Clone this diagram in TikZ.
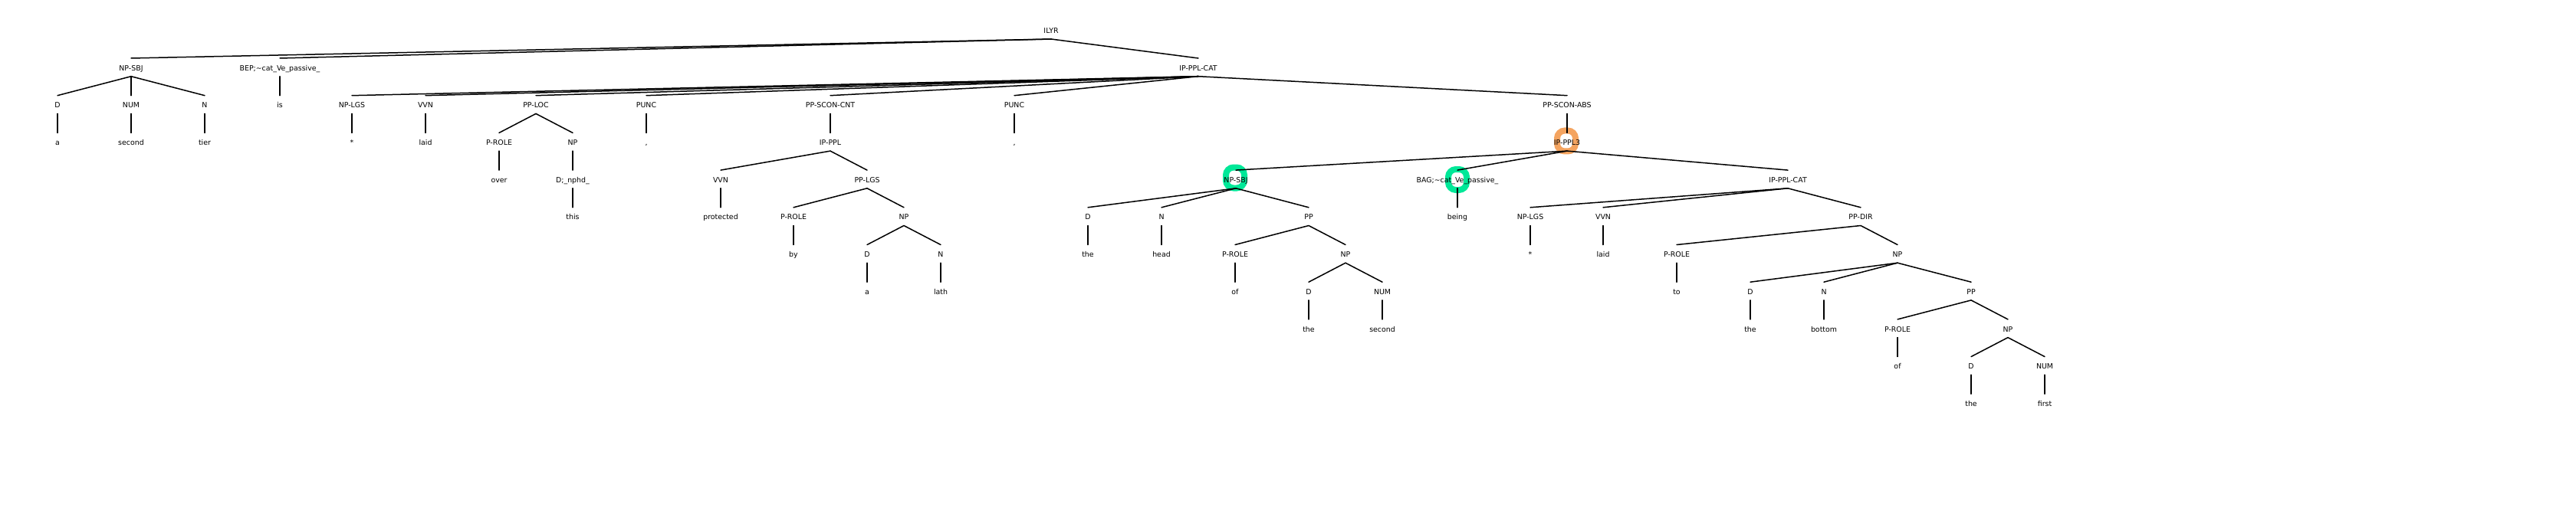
\documentclass[tikz,border=0pt]{standalone}
\usepackage{fontspec}
\setmainfont{DejaVu Sans}
\definecolor{hlorange}{RGB}{244,164,96}
\definecolor{hlgreen}{RGB}{0,232,152}
\tikzset{
  every picture/.style={line width=1.5pt},
  lbl/.style={anchor=base, inner sep=0pt, text height=10.4pt, text depth=1.7pt,
    outer ysep=5.8pt, font=\fontsize{9.4}{11}\selectfont},
  ring/.style={draw, line width=8pt, minimum width=24pt, minimum height=27pt,
    rounded corners=10pt, inner sep=0pt},
  edge/.style={line width=1.5pt, line cap=round}
}

\begin{document}
\begin{tikzpicture}[x=1pt,y=48.7pt,yscale=-1]
\useasboundingbox (0,-0.8932) rectangle (3360,12.885);

%Shape: highlight rings
\node[ring, draw=hlorange] (ringppl) at (2043,2.885) {};
\node[ring, draw=hlgreen] (ringsbj) at (1611,3.871) {};
\node[ring, draw=hlgreen] (ringbag) at (1901,3.922) {};

% level 0
\node[lbl] (ilyr) at (1371,0) {ILYR};
% level 1
\node[lbl] (sbj) at (171,1) {NP-SBJ};
\node[lbl] (bep) at (365,1) {BEP;\textasciitilde cat\_Ve\_passive\_};
\node[lbl] (cat) at (1563,1) {IP-PPL-CAT};
% level 2
\node[lbl] (d1) at (75,2) {D};
\node[lbl] (num1) at (171,2) {NUM};
\node[lbl] (n1) at (267,2) {N};
\node[lbl] (is) at (365,2) {is};
\node[lbl] (lgs1) at (459,2) {NP-LGS};
\node[lbl] (vvn1) at (555,2) {VVN};
\node[lbl] (loc) at (699,2) {PP-LOC};
\node[lbl] (punc1) at (843,2) {PUNC};
\node[lbl] (cnt) at (1083,2) {PP-SCON-CNT};
\node[lbl] (punc2) at (1323,2) {PUNC};
\node[lbl] (abs) at (2044,2) {PP-SCON-ABS};
% level 3
\node[lbl] (wa1) at (75,3) {a};
\node[lbl] (wsecond1) at (171,3) {second};
\node[lbl] (wtier) at (267,3) {tier};
\node[lbl] (wstar1) at (459,3) {*};
\node[lbl] (wlaid1) at (555,3) {laid};
\node[lbl] (prole1) at (651,3) {P-ROLE};
\node[lbl] (np1) at (747,3) {NP};
\node[lbl] (wcomma1) at (843,3) {,};
\node[lbl] (ippl) at (1083,3) {IP-PPL};
\node[lbl] (wcomma2) at (1323,3) {,};
\node[lbl] (ippl3) at (2044,3) {IP-PPL3};
% level 4
\node[lbl] (wover) at (651,4) {over};
\node[lbl] (nphd) at (747,4) {D;\_nphd\_};
\node[lbl] (vvn2) at (940,4) {VVN};
\node[lbl] (pplgs) at (1131,4) {PP-LGS};
\node[lbl] (sbj2) at (1612,4) {NP-SBJ};
\node[lbl] (bag) at (1901,4) {BAG;\textasciitilde cat\_Ve\_passive\_};
\node[lbl] (cat2) at (2332,4) {IP-PPL-CAT};
% level 5
\node[lbl] (wthis) at (747,5) {this};
\node[lbl] (wprotected) at (940,5) {protected};
\node[lbl] (prole2) at (1035,5) {P-ROLE};
\node[lbl] (np2) at (1179,5) {NP};
\node[lbl] (d2) at (1419,5) {D};
\node[lbl] (n2) at (1515,5) {N};
\node[lbl] (pp1) at (1707,5) {PP};
\node[lbl] (wbeing) at (1901,5) {being};
\node[lbl] (lgs2) at (1996,5) {NP-LGS};
\node[lbl] (vvn3) at (2091,5) {VVN};
\node[lbl] (ppdir) at (2427,5) {PP-DIR};
% level 6
\node[lbl] (wby) at (1035,6) {by};
\node[lbl] (d3) at (1131,6) {D};
\node[lbl] (n3) at (1227,6) {N};
\node[lbl] (wthe1) at (1419,6) {the};
\node[lbl] (whead) at (1515,6) {head};
\node[lbl] (prole3) at (1611,6) {P-ROLE};
\node[lbl] (np3) at (1755,6) {NP};
\node[lbl] (wstar2) at (1996,6) {*};
\node[lbl] (wlaid2) at (2091,6) {laid};
\node[lbl] (prole4) at (2187,6) {P-ROLE};
\node[lbl] (np4) at (2475,6) {NP};
% level 7
\node[lbl] (wa2) at (1131,7) {a};
\node[lbl] (wlath) at (1227,7) {lath};
\node[lbl] (wof1) at (1611,7) {of};
\node[lbl] (d4) at (1707,7) {D};
\node[lbl] (num2) at (1803,7) {NUM};
\node[lbl] (wto) at (2187,7) {to};
\node[lbl] (d5) at (2283,7) {D};
\node[lbl] (n4) at (2379,7) {N};
\node[lbl] (pp2) at (2571,7) {PP};
% level 8
\node[lbl] (wthe2) at (1707,8) {the};
\node[lbl] (wsecond2) at (1803,8) {second};
\node[lbl] (wthe3) at (2283,8) {the};
\node[lbl] (wbottom) at (2379,8) {bottom};
\node[lbl] (prole5) at (2475,8) {P-ROLE};
\node[lbl] (np5) at (2619,8) {NP};
% level 9
\node[lbl] (wof2) at (2475,9) {of};
\node[lbl] (d6) at (2571,9) {D};
\node[lbl] (num3) at (2667,9) {NUM};
% level 10
\node[lbl] (wthe4) at (2571,10) {the};
\node[lbl] (wfirst) at (2667,10) {first};

% branches
\foreach \p/\c in {ilyr/sbj, ilyr/bep, ilyr/cat,
    sbj/d1, sbj/num1, sbj/n1, bep/is,
    cat/lgs1, cat/vvn1, cat/loc, cat/punc1, cat/cnt, cat/punc2, cat/abs,
    d1/wa1, num1/wsecond1, n1/wtier, lgs1/wstar1, vvn1/wlaid1, loc/prole1, loc/np1,
    punc1/wcomma1, cnt/ippl, punc2/wcomma2, abs/ippl3,
    prole1/wover, np1/nphd, ippl/vvn2, ippl/pplgs, ippl3/sbj2, ippl3/bag, ippl3/cat2,
    nphd/wthis, vvn2/wprotected, pplgs/prole2, pplgs/np2, sbj2/d2, sbj2/n2, sbj2/pp1,
    bag/wbeing, cat2/lgs2, cat2/vvn3, cat2/ppdir,
    prole2/wby, np2/d3, np2/n3, d2/wthe1, n2/whead, pp1/prole3, pp1/np3,
    lgs2/wstar2, vvn3/wlaid2, ppdir/prole4, ppdir/np4,
    d3/wa2, n3/wlath, prole3/wof1, np3/d4, np3/num2, prole4/wto, np4/d5, np4/n4, np4/pp2,
    d4/wthe2, num2/wsecond2, d5/wthe3, n4/wbottom, pp2/prole5, pp2/np5,
    prole5/wof2, np5/d6, np5/num3,
    d6/wthe4, num3/wfirst}
  \draw[edge] (\p.south) -- (\c.north);

\end{tikzpicture}
\end{document}
